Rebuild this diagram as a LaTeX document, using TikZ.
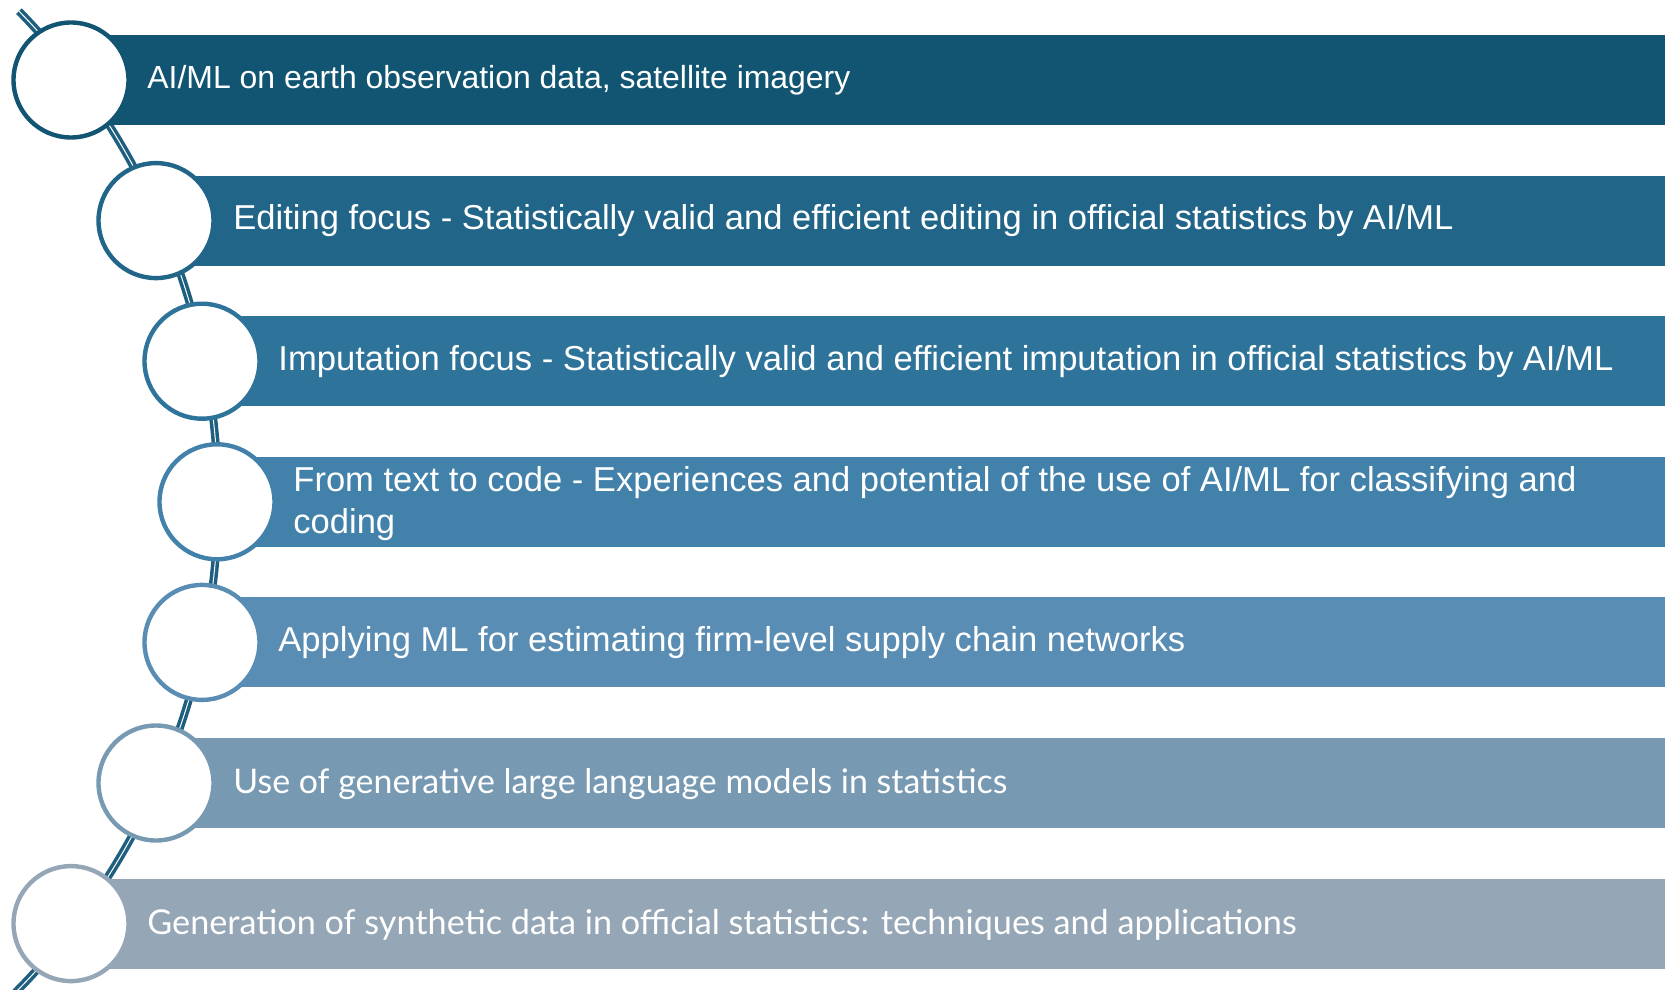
\documentclass[tikz,border=0pt]{standalone}
\usepackage{fontspec}
\setmainfont{Liberation Sans}
\newfontfamily\aptosalt{Lato}
\usepackage{graphicx}
\usetikzlibrary{calc}
\definecolor{cA}{HTML}{125572}
\definecolor{cB}{HTML}{216588}
\definecolor{cC}{HTML}{2E7399}
\definecolor{cD}{HTML}{4281AA}
\definecolor{cE}{HTML}{5A8DB4}
\definecolor{cF}{HTML}{7899B2}
\definecolor{cG}{HTML}{95A6B6}
\definecolor{arcblue}{HTML}{1E5F80}
\begin{document}
\begin{tikzpicture}[x=0.5pt,y=-0.5pt,
  bar/.style={fill=#1,draw=none},
  ring/.style={draw=#1,fill=white,line width=2.2pt},
  label/.style={anchor=base west,inner sep=0pt,text=white,font=\fontsize{15.4}{19}\selectfont},
  labelb/.style={anchor=base west,inner sep=0pt,text=white,font=\aptosalt\fontsize{15.4}{19}\selectfont}]
\useasboundingbox (0,0) rectangle (1665,990);
\clip (0,0) rectangle (1665,990);
% spine arc
\coordinate (arcc) at (-482,500);
\draw[arcblue,line width=1.75pt,double=white,double distance=0.5pt]
  ($(arcc)+(-44.3:700)$) arc[start angle=-44.3,end angle=46,radius=700];
% bars
\foreach \y/\x/\c in {80/71/cA,220.6/156/cB,361.2/202/cC,501.8/217/cD,642.4/202/cE,783/156/cF,923.6/71/cG}{
  \fill[\c] (\x,\y-45) rectangle (1665,\y+45);
}
% circles
\draw[ring=cA] (71,80) circle[radius=57.5];
\draw[ring=cB] (156,220.6) circle[radius=57.5];
\draw[ring=cC] (202,361.2) circle[radius=57.5];
\draw[ring=cD] (217,501.8) circle[radius=57.5];
\draw[ring=cE] (202,642.4) circle[radius=57.5];
\draw[ring=cF] (156,783) circle[radius=57.5];
\draw[ring=cG] (71,923.6) circle[radius=57.5];
% labels
\node[label] (t1) at (147,89) {\resizebox{351.5pt}{!}{AI/ML on earth observation data, satellite imagery}};
\node[label] (t2) at (233,229.6) {\resizebox{610pt}{!}{Editing focus - Statistically valid and efficient editing in official statistics by AI/ML}};
\node[label] (t3) at (278,370.2) {\resizebox{667.5pt}{!}{Imputation focus - Statistically valid and efficient imputation in official statistics by AI/ML}};
\node[label] (t4) at (293,491) {\resizebox{641.5pt}{!}{\begin{tabular}[t]{@{}l@{}}From text to code - Experiences and potential of the use of AI/ML for classifying and\\coding\end{tabular}}};
\node[label] (t5) at (278,651.4) {\resizebox{453.5pt}{!}{Applying ML for estimating firm-level supply chain networks}};
\node[labelb] (t6) at (233,793) {\resizebox{387pt}{!}{Use of generative large language models in statistics}};
\node[labelb] (t7) at (147,934) {\resizebox{574.5pt}{!}{Generation of synthetic data in official statistics: techniques and applications}};
\end{tikzpicture}
\end{document}
